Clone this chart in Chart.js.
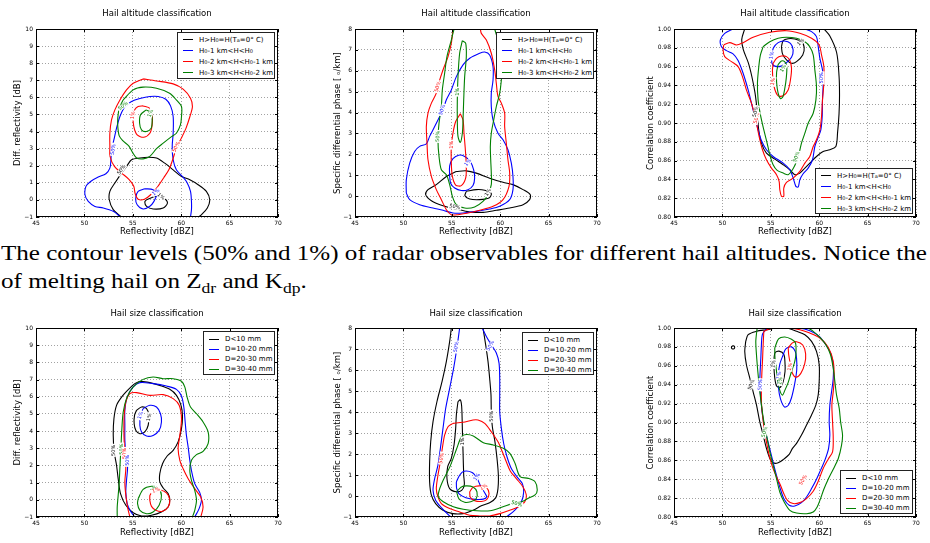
<!DOCTYPE html>
<html>
<head>
<meta charset="utf-8">
<script src="https://cdn.jsdelivr.net/npm/chart.js@4.4.0/dist/chart.umd.min.js"></script>
<style>
  body { margin: 0; width: 930px; height: 543px; overflow: hidden; position: relative; background: #fff; }
  canvas { position: absolute; }
  .caption { position: absolute; left: 1px; font-family: "Liberation Serif", serif; font-size: 22px; line-height: 22px; white-space: nowrap; transform-origin: 0 0; color: #000; }
  .caption sub { font-size: 0.7em; line-height: 0; vertical-align: -0.3em; }
  .lg { position: absolute; background: #fff; border: 1px solid #222; box-sizing: border-box; font: 7px "DejaVu Sans", sans-serif; color: #000; }
  .lg .row { white-space: nowrap; display: flex; align-items: center; padding-left: 5px; }
  .lg .ln { display: inline-block; width: 10px; height: 1px; margin-right: 6px; flex: none; }
  .lg sub { font-size: 0.72em; line-height: 0; vertical-align: -0.25em; }
</style>
</head>
<body>
<div class="caption" id="cap1" style="top:242px">The contour levels (50% and 1%) of radar observables for different hail altitudes. Notice the</div>
<div class="caption" id="cap2" style="top:270px">of melting hail on Z<sub>dr</sub> and K<sub>dp</sub>.</div>
<script>
// axis ranges
const reflRange = [45, 70];
const zdrRange = [-1, 10];
const kdpRange = [-1, 8];
const rhoRange = [0.8, 1.0];

// series colours: black, blue, red, green
const colours = ['#000000', '#0000ff', '#ff0000', '#008000'];

const altitudeLegend = [
  'H&gt;H<sub>0</sub>=H(T<sub>a</sub>=0° C)',
  'H<sub>0</sub>-1 km&lt;H&lt;H<sub>0</sub>',
  'H<sub>0</sub>-2 km&lt;H&lt;H<sub>0</sub>-1 km',
  'H<sub>0</sub>-3 km&lt;H&lt;H<sub>0</sub>-2 km'
];
const sizeLegend = ['D&lt;10 mm', 'D=10-20 mm', 'D=20-30 mm', 'D=30-40 mm'];

// ---- panel 1: altitude, Zdr ----
const p1Black50 = [[53.8,-1],[52.98,-0.57],[52.57,0.01],[52.63,0.5],[53.15,0.99],[53.84,1.57],[54.36,1.96],[54.87,2.35],[55.73,2.45],[56.59,2.5],[57.45,2.45],[58.3,2.15],[59.17,1.76],[60.03,1.37],[60.89,1.18],[61.75,0.89],[62.6,0.5],[62.95,0.01],[62.7,-0.47],[62.1,-0.86],[61.8,-1]];
const p1Black1 = [[56.42,0.01],[57.45,0.21],[58.3,0.07],[58.58,-0.18],[58.14,-0.47],[57.1,-0.53],[56.42,-0.38],[56.24,-0.12],[56.42,0.01]];
const p1Blue50 = [[53.73,-1],[52.98,-0.67],[51.95,-0.47],[51.09,-0.38],[50.4,-0.09],[50.06,0.3],[50.16,0.79],[50.64,1.08],[51.43,1.34],[52.22,1.53],[52.63,1.86],[52.74,2.35],[52.8,2.93],[53.05,3.52],[53.32,4.2],[53.67,4.88],[54.18,5.46],[54.87,5.76],[55.73,5.93],[56.76,6.05],[57.62,6.05],[58.41,5.89],[58.9,5.5],[59.17,4.88],[59.17,3.9],[59.07,3.13],[59.17,2.35],[59.5,1.76],[60.13,1.37],[60.6,1.02],[60.96,0.5],[61.06,-0.09],[61.06,-0.57],[60.96,-1]];
const p1Blue1 = [[56.24,0.65],[57.1,0.6],[57.45,0.3],[57.17,-0.1],[56.76,-0.37],[56.07,-0.53],[55.45,-0.28],[55.3,0.1],[55.55,0.5],[56.24,0.65]];
const p1Red50 = [[56.07,7.08],[57.45,6.96],[59.17,6.79],[60.2,6.48],[60.96,5.95],[61.16,5.46],[60.9,4.88],[60.5,4.2],[60.0,3.6],[59.5,3.05],[59.15,2.4],[58.75,1.8],[58.2,1.3],[57.6,0.8],[56.9,0.33],[56.2,0.04],[55.55,0.04],[55.25,0.35],[55.1,0.8],[54.6,1.2],[53.85,1.57],[53.1,1.96],[52.65,2.54],[52.63,3.13],[52.63,3.9],[52.8,4.68],[53.15,5.27],[53.67,5.85],[54.35,6.44],[55.04,6.83],[56.07,7.08]];
const p1Red1 = [[56.07,5.5],[56.76,5.36],[57.0,4.98],[57.0,4.39],[56.76,3.9],[56.14,3.67],[55.45,3.8],[55.1,4.3],[55.04,4.88],[55.2,5.27],[55.55,5.46],[56.07,5.5]];
const p1Green50 = [[54.0,5.85],[55.04,6.44],[56.07,6.6],[57.45,6.53],[58.8,6.24],[59.5,5.85],[60.03,5.46],[60.03,4.88],[59.92,4.39],[59.5,3.9],[59.0,3.7],[58.14,3.32],[57.45,3.0],[56.76,2.55],[56.07,2.4],[55.4,2.45],[55.0,2.75],[54.6,3.15],[54.0,3.45],[53.6,3.75],[53.45,4.3],[53.45,4.8],[53.6,5.35],[54.0,5.85]];
const p1Green1 = [[56.4,5.27],[56.9,5.07],[57.0,4.68],[56.9,4.2],[56.4,4.0],[55.9,4.1],[55.7,4.5],[55.8,4.98],[56.4,5.27]];
const p1Labels = [[59.5,3.1,'50%',2,-65],[55.0,4.95,'1%',2,-80],[54.0,5.5,'50%',3,-40],[56.85,5.07,'1%',3,-70],[53.0,2.95,'50%',1,-80],[57.4,0.45,'1%',1,-40],[53.84,1.76,'50%',0,-55],[57.9,0.2,'1%',0,40]];

// ---- panel 2: altitude, Kdp ----
const p2Black50 = [[55.47,1.18],[56.5,1.21],[57.53,1.1],[58.91,0.86],[60.29,0.66],[61.32,0.55],[62.36,0.31],[63.1,0.07],[63.04,-0.17],[62.36,-0.41],[60.98,-0.57],[59.6,-0.68],[58.22,-0.78],[56.85,-0.76],[55.47,-0.62],[54.09,-0.46],[52.89,-0.22],[52.3,0.07],[52.54,0.31],[53.4,0.55],[54.44,0.94],[55.47,1.18]];
const p2Black1 = [[56.5,0.23],[57.53,0.31],[58.4,0.28],[59.08,0.12],[58.84,-0.09],[57.88,-0.17],[56.85,-0.14],[56.36,0.02],[56.5,0.23]];
const p2Blue50 = [[50.3,0.15],[50.3,0.78],[50.65,1.58],[51.16,2.14],[51.68,2.38],[52.37,2.5],[52.71,2.86],[53.23,3.33],[53.75,3.81],[54.09,4.13],[54.44,4.61],[54.95,5.08],[55.47,5.72],[56.16,6.28],[56.85,6.6],[57.88,6.84],[58.4,6.9],[58.91,6.76],[59.26,6.2],[59.26,5.56],[59.08,4.93],[59.08,4.29],[59.26,3.65],[59.77,3.01],[60.29,2.7],[60.8,2.22],[61.15,1.58],[61.32,0.94],[61.32,0.31],[60.98,-0.17],[59.95,-0.49],[58.91,-0.62],[57.53,-0.73],[56.16,-0.81],[55.12,-0.81],[54.09,-0.68],[53.06,-0.57],[51.68,-0.41],[50.65,-0.17],[50.3,0.15]];
const p2Blue1 = [[54.78,0.94],[54.78,1.45],[55.12,1.79],[55.71,1.96],[56.33,1.9],[56.91,1.66],[57.26,1.26],[57.36,0.86],[57.19,0.51],[56.67,0.31],[55.98,0.27],[55.3,0.39],[54.88,0.62],[54.78,0.94]];
const p2Red50 = [[55.12,8.0],[54.95,7.32],[54.61,6.68],[54.09,6.04],[53.75,5.56],[53.4,4.93],[52.89,4.45],[52.54,3.97],[52.37,3.33],[52.44,2.54],[52.54,1.74],[52.89,0.94],[53.4,0.31],[53.92,-0.17],[54.44,-0.65],[54.95,-0.89],[55.64,-0.89],[56.67,-0.81],[57.88,-0.68],[59.26,-0.49],[60.29,-0.17],[60.91,0.47],[60.98,1.1],[60.8,1.74],[60.63,2.54],[60.46,3.33],[60.46,3.97],[60.12,4.45],[59.77,4.77],[59.6,5.4],[59.43,6.04],[59.08,6.84],[58.57,7.47],[58.05,7.79],[57.95,8.0]];
const p2Red1 = [[55.88,3.94],[56.16,3.65],[56.26,3.01],[56.4,2.22],[56.5,1.42],[56.43,0.86],[55.98,0.5],[55.4,0.53],[55.06,0.94],[54.95,1.58],[54.95,2.38],[55.12,3.01],[55.4,3.57],[55.88,3.94]];
const p2Green50 = [[55.23,8.0],[54.95,7.47],[54.5,6.68],[54.26,5.88],[54.02,5.08],[53.92,4.29],[53.68,3.49],[53.57,2.7],[53.68,1.9],[53.92,1.26],[54.44,1.02],[54.78,0.55],[55.06,-0.01],[55.47,-0.41],[56.33,-0.57],[57.36,-0.52],[58.22,-0.25],[58.74,0.07],[59.08,0.55],[59.08,1.1],[59.02,1.74],[58.98,2.38],[59.08,3.01],[59.33,3.65],[59.6,4.29],[59.95,4.93],[60.12,5.56],[60.22,6.2],[60.12,6.84],[59.77,7.47],[59.43,8.0]];
const p2Green1 = [[56.09,7.44],[56.43,7.32],[56.5,6.68],[56.33,5.72],[56.23,4.61],[56.16,3.65],[56.09,3.01],[55.88,2.57],[55.64,2.86],[55.57,3.65],[55.57,4.61],[55.64,5.72],[55.81,6.84],[56.09,7.44]];
const p2Labels = [[53.57,5.24,'50%',2,-75],[54.02,4.13,'50%',1,-70],[53.57,2.86,'50%',3,-88],[55.6,5.0,'1%',3,-90],[54.95,2.46,'1%',2,-90],[56.67,1.6,'1%',1,-50],[55.3,-0.52,'50%',0,10],[58.74,0.18,'1%',0,-60]];

// ---- panel 3: altitude, rhohv ----
const p3Black50 = [[52.3,1.0],[52.0,0.989],[52.16,0.978],[52.68,0.964],[53.03,0.95],[53.37,0.932],[53.6,0.912],[53.75,0.8927],[54.03,0.8786],[54.55,0.868],[55.41,0.8616],[56.28,0.8556],[56.97,0.8503],[57.48,0.845],[58.0,0.8467],[58.52,0.852],[59.03,0.8573],[59.72,0.8644],[60.41,0.8697],[61.1,0.8715],[61.72,0.875],[61.9,0.89],[62.05,0.91],[62.1,0.93],[62.05,0.95],[61.8,0.975],[61.1,0.9926],[60.5,1.0]];
const p3Black1 = [[56.1,0.9812],[56.28,0.9876],[56.79,0.9897],[57.48,0.9894],[58.17,0.9865],[58.45,0.9805],[58.3,0.9724],[57.66,0.9653],[57.14,0.9635],[56.62,0.9671],[56.21,0.9735],[56.1,0.9812]];
const p3Blue50 = [[51.1,1.0],[50.24,0.9954],[49.79,0.9883],[49.9,0.9812],[50.41,0.977],[51.1,0.9735],[51.62,0.9664],[52.14,0.9529],[52.66,0.9352],[53.0,0.9211],[53.34,0.9069],[53.69,0.8927],[54.03,0.8814],[54.55,0.8715],[55.24,0.8644],[56.28,0.8573],[56.97,0.8503],[57.31,0.8414],[57.59,0.8326],[57.83,0.8319],[58.0,0.8396],[58.34,0.846],[58.86,0.852],[59.31,0.8609],[59.55,0.875],[59.9,0.885],[60.17,0.8927],[60.31,0.9069],[60.34,0.9246],[60.41,0.9423],[60.34,0.9565],[60.07,0.9688],[59.9,0.9812],[59.72,0.9919],[59.21,0.9972],[58.52,1.0]];
const p3Blue1 = [[55.1,0.9688],[55.25,0.9795],[55.76,0.9855],[56.4,0.9872],[57.03,0.9848],[57.31,0.9777],[57.14,0.9699],[56.62,0.9642],[56.1,0.9605],[55.41,0.9605],[55.12,0.9635],[55.1,0.9688]];
const p3Red50 = [[50.14,0.983],[50.76,0.9855],[51.45,0.983],[52.14,0.9855],[53.17,0.9912],[54.9,0.9965],[56.62,0.9982],[58.0,0.9954],[59.21,0.9901],[60.0,0.983],[60.24,0.9724],[60.48,0.96],[60.48,0.9423],[60.34,0.9246],[60.24,0.9069],[60.07,0.8927],[59.72,0.8821],[59.38,0.875],[59.03,0.8644],[58.52,0.8573],[58.0,0.8485],[57.31,0.8414],[56.62,0.8368],[56.34,0.8308],[56.34,0.822],[56.1,0.822],[55.93,0.829],[55.86,0.8379],[55.59,0.845],[55.07,0.852],[54.55,0.8609],[54.14,0.8715],[53.79,0.8857],[53.45,0.9034],[53.0,0.9211],[52.48,0.9352],[52.07,0.9494],[51.62,0.96],[50.93,0.9653],[50.24,0.9706],[50.07,0.9777],[50.14,0.983]];
const p3Red1 = [[55.24,0.9635],[55.59,0.9688],[56.1,0.9713],[56.62,0.9706],[56.97,0.9664],[57.14,0.9582],[57.03,0.9458],[56.79,0.9352],[56.28,0.9289],[55.76,0.9289],[55.41,0.9359],[55.24,0.9458],[55.17,0.9558],[55.24,0.9635]];
const p3Green50 = [[54.21,0.9812],[54.9,0.9865],[55.76,0.9901],[56.62,0.9912],[57.66,0.9901],[58.52,0.9865],[59.03,0.9812],[59.38,0.9724],[59.55,0.9565],[59.72,0.9388],[59.66,0.9246],[59.38,0.9104],[58.86,0.8998],[58.52,0.8892],[58.17,0.8786],[57.93,0.868],[57.66,0.8591],[57.24,0.8503],[56.79,0.845],[56.28,0.8467],[55.66,0.8496],[55.24,0.8556],[54.9,0.8662],[54.62,0.8786],[54.28,0.8927],[53.93,0.9087],[53.69,0.9246],[53.62,0.9423],[53.76,0.96],[53.93,0.9724],[54.21,0.9812]];
const p3Green1 = [[55.75,0.962],[56.1,0.966],[56.45,0.965],[56.65,0.96],[56.6,0.948],[56.45,0.937],[56.25,0.928],[56.0,0.926],[55.75,0.932],[55.6,0.943],[55.6,0.954],[55.75,0.962]];
const p3Labels = [[53.55,0.905,'50%',2,-75],[53.45,0.912,'50%',0,-75],[60.3,0.948,'50%',1,-90],[57.66,0.864,'50%',3,-70],[55.1,0.972,'1%',1,-80],[55.25,0.944,'1%',2,-80],[56.3,0.958,'1%',3,-60],[58.1,0.986,'1%',0,-45]];

// ---- panel 4: size, Zdr ----
const p4Black50 = [[55.73,6.9],[56.76,6.82],[57.79,6.66],[58.82,6.43],[59.51,6.08],[59.96,5.54],[60.13,4.92],[60.03,4.14],[59.68,3.37],[59.17,2.88],[58.55,2.55],[58.07,2.1],[57.79,1.52],[57.79,1.04],[58.14,0.69],[58.65,0.36],[58.82,-0.03],[58.65,-0.42],[57.96,-0.71],[56.93,-0.9],[55.9,-0.94],[55.04,-0.75],[54.28,-0.32],[53.73,0.36],[53.49,1.23],[53.32,2.01],[53.08,2.78],[52.98,3.75],[53.05,4.72],[53.32,5.5],[53.84,5.98],[54.53,6.41],[55.21,6.76],[55.73,6.9]];
const p4Black1 = [[55.39,5.21],[55.9,5.4],[56.42,5.31],[56.66,4.92],[56.59,4.34],[56.24,3.95],[55.73,3.85],[55.32,4.04],[55.14,4.43],[55.18,4.92],[55.39,5.21]];
const p4Blue50 = [[55.21,-1],[54.77,-0.67],[54.42,-0.22],[54.28,0.46],[54.35,1.13],[54.46,1.91],[54.28,2.69],[54.18,3.46],[54.18,4.34],[54.18,5.21],[54.42,5.98],[55.04,6.57],[55.73,6.82],[57.1,6.76],[58.48,6.62],[59.51,6.43],[60.03,6.04],[60.27,5.4],[60.41,4.53],[60.54,3.75],[60.72,3.07],[60.89,2.3],[61.09,1.62],[61.4,0.94],[61.92,0.42],[62.09,-0.03],[61.85,-0.51],[61.4,-1]];
const p4Blue1 = [[56.07,5.31],[56.76,5.5],[57.45,5.4],[57.86,5.01],[57.96,4.53],[57.72,4.04],[57.1,3.75],[56.42,3.71],[55.9,3.95],[55.73,4.34],[55.8,4.92],[56.07,5.31]];
const p4Red50 = [[54.7,-1],[54.49,-0.51],[54.28,0.26],[54.18,1.04],[54.28,1.81],[54.22,2.59],[54.11,3.37],[54.08,4.14],[54.11,4.92],[54.28,5.69],[54.7,6.18],[55.39,6.24],[56.76,6.08],[58.14,6.12],[59.17,5.89],[59.79,5.5],[60.03,4.72],[59.86,3.75],[59.68,2.98],[59.86,2.3],[60.2,1.81],[60.72,1.23],[61.4,0.65],[62.02,0.16],[62.26,-0.42],[62.02,-1]];
const p4Red1 = [[56.76,0.26],[57.17,0.59],[57.79,0.59],[58.48,0.4],[58.82,0.01],[58.65,-0.42],[58.07,-0.67],[57.38,-0.61],[56.93,-0.38],[56.76,-0.03],[56.76,0.26]];
const p4Green50 = [[53.39,-1],[53.39,-0.42],[53.49,0.26],[53.6,1.04],[53.67,1.91],[53.77,2.98],[53.87,4.14],[54.01,5.11],[54.35,5.89],[55.04,6.57],[56.07,7.01],[57.1,7.15],[58.14,7.05],[59.17,7.05],[60.03,6.9],[60.37,6.57],[60.61,5.98],[60.96,5.4],[61.58,5.01],[62.26,4.53],[62.78,3.95],[62.78,3.27],[62.26,2.82],[61.58,2.63],[61.06,2.3],[60.89,1.72],[61.06,1.13],[61.4,0.55],[61.58,-0.03],[61.4,-0.61],[61.16,-1]];
const p4Green1 = [[55.56,0.07],[56.07,0.61],[56.93,0.79],[57.62,0.69],[57.96,0.26],[57.72,-0.32],[57.1,-0.71],[56.42,-0.81],[55.73,-0.61],[55.49,-0.22],[55.56,0.07]];
const p4Labels = [[52.98,2.88,'50%',0,-90],[53.85,2.95,'50%',3,-90],[54.15,2.7,'50%',2,-90],[54.45,2.3,'50%',1,-90],[55.8,4.92,'1%',1,-70],[56.7,4.8,'1%',0,-80],[57.2,0.62,'1%',3,-40],[57.4,0.55,'1%',2,-20]];

// ---- panel 5: size, Kdp ----
const p5Black50 = [[54.95,8.0],[54.78,7.36],[54.44,6.41],[53.99,5.45],[53.47,4.5],[53.06,3.54],[52.82,2.58],[52.71,1.63],[52.71,0.67],[52.89,0.04],[53.33,-0.36],[54.09,-0.68],[55.12,-0.84],[56.16,-0.84],[57.19,-0.68],[58.05,-0.47],[58.91,-0.32],[59.53,-0.09],[59.77,0.35],[59.81,0.99],[59.67,1.79],[59.46,2.58],[59.19,3.3],[59.08,4.02],[59.05,4.81],[58.91,5.61],[58.74,6.41],[58.5,7.2],[58.22,8.0]];
const p5Black1 = [[55.64,4.5],[55.88,4.58],[56.02,4.26],[56.09,3.22],[56.16,2.11],[56.23,0.99],[56.29,0.51],[56.02,0.27],[55.47,0.2],[54.78,0.35],[54.5,0.83],[54.57,1.39],[54.95,1.79],[55.23,2.43],[55.4,3.22],[55.47,3.86],[55.64,4.5]];
const p5Blue50a = [[55.81,8.0],[55.67,7.52],[55.47,6.88],[55.19,6.09],[54.78,5.13],[54.37,4.18],[54.09,3.22],[53.82,2.27],[53.57,1.47],[53.23,0.83],[53.06,0.27],[53.33,-0.2],[54.02,-0.6],[54.71,-0.92],[54.95,-1]];
const p5Blue50b = [[58.15,8.0],[58.57,7.6],[59.08,7.2],[59.6,6.81],[59.88,6.33],[59.95,5.61],[59.95,4.81],[59.95,4.02],[60.12,3.22],[60.36,2.5],[60.7,1.87],[61.15,1.31],[61.74,0.91],[62.29,0.59],[62.42,0.16],[62.18,-0.28],[61.49,-0.68],[60.63,-1]];
const p5Blue1 = [[55.47,0.67],[55.81,0.99],[56.25,1.18],[57.1,1.12],[57.6,0.85],[57.95,0.5],[58.4,0.15],[58.6,-0.04],[58.25,-0.15],[57.43,-0.16],[56.45,-0.08],[55.75,0.1],[55.5,0.36],[55.47,0.67]];
const p5Red50 = [[55.12,3.46],[56.16,3.51],[57.19,3.62],[57.71,3.62],[58.4,3.46],[59.08,3.06],[59.77,2.58],[60.22,2.11],[60.63,1.63],[61.05,1.18],[61.67,0.83],[62.36,0.43],[62.7,0.04],[62.53,-0.28],[61.84,-0.52],[60.98,-0.68],[59.95,-0.84],[58.91,-0.95],[57.88,-0.95],[56.85,-0.92],[55.81,-0.76],[54.78,-0.6],[53.92,-0.36],[53.57,-0.04],[53.4,0.35],[53.57,0.99],[53.82,1.63],[54.02,2.27],[54.26,2.9],[54.61,3.3],[55.12,3.46]];
const p5Red1 = [[56.85,0.2],[57.19,0.41],[57.88,0.48],[58.6,0.39],[58.85,0.12],[58.6,-0.17],[58.05,-0.26],[57.36,-0.22],[56.91,-0.06],[56.85,0.2]];
const p5Green50 = [[55.5,2.25],[56.0,2.83],[56.5,2.93],[57.22,2.86],[58.26,2.54],[59.29,2.43],[60.32,2.27],[61.0,2.03],[61.53,1.56],[62.05,0.92],[62.9,0.84],[63.6,0.68],[63.83,0.29],[63.6,0.05],[62.9,-0.11],[62.22,-0.27],[61.35,-0.35],[60.15,-0.54],[58.95,-0.7],[57.57,-0.7],[56.19,-0.63],[55.16,-0.51],[54.12,-0.27],[53.61,-0.03],[53.71,0.29],[54.12,0.76],[54.81,1.4],[55.5,2.25]];
const p5Green1 = [[55.5,0.2],[55.95,0.42],[56.5,0.48],[57.19,0.43],[57.6,0.2],[57.5,-0.14],[56.95,-0.27],[56.33,-0.3],[55.74,-0.14],[55.5,0.2]];
const p5Labels = [[55.47,7.1,'50%',1,-80],[59.0,7.15,'50%',1,-60],[59.08,3.8,'50%',0,-90],[56.15,2.6,'1%',0,-90],[53.95,1.8,'50%',2,-80],[57.6,0.9,'1%',1,-55],[58.3,0.42,'1%',2,-30],[61.7,-0.38,'50%',3,15]];

// ---- panel 6: size, rhohv ----
const p6Black50 = [[52.41,0.9858],[52.66,0.9929],[53.52,0.9965],[54.55,0.9982],[55.59,1.0],[56.62,1.0],[57.66,0.9965],[58.52,0.9929],[59.21,0.9858],[59.72,0.9752],[60.0,0.9611],[60.0,0.9434],[59.9,0.9292],[59.66,0.9186],[59.21,0.908],[58.69,0.8973],[58.17,0.8867],[57.66,0.8779],[57.24,0.8726],[56.9,0.8662],[56.34,0.8612],[55.76,0.8573],[55.24,0.8573],[54.9,0.862],[54.55,0.8726],[54.21,0.8867],[53.86,0.9009],[53.52,0.9186],[53.17,0.9327],[52.83,0.9469],[52.48,0.9611],[52.31,0.9752],[52.41,0.9858]];
const p6Black50b = [[51.0,0.981],[51.2,0.981],[51.27,0.9795],[51.2,0.978],[51.0,0.978],[50.93,0.9795],[51.0,0.981]];
const p6Black1 = [[55.3,0.962],[55.43,0.9737],[55.85,0.9755],[56.35,0.972],[56.47,0.962],[56.47,0.954],[56.28,0.9434],[55.95,0.937],[55.6,0.9385],[55.4,0.948],[55.3,0.962]];
const p6Blue50 = [[54.55,0.9993],[54.14,0.9936],[54.03,0.9823],[53.97,0.9681],[53.9,0.954],[53.86,0.9398],[53.97,0.9257],[54.1,0.9115],[54.31,0.8973],[54.62,0.8832],[54.97,0.869],[55.31,0.8549],[55.66,0.8414],[56.03,0.8283],[56.38,0.8188],[56.9,0.8124],[57.48,0.8117],[58.17,0.8152],[58.69,0.8212],[59.21,0.8301],[59.72,0.84],[60.14,0.8496],[60.59,0.8602],[60.97,0.8726],[61.1,0.8867],[61.03,0.9009],[61.1,0.9186],[61.28,0.9327],[61.45,0.9469],[61.45,0.9611],[61.17,0.9735],[60.69,0.9823],[60.0,0.9912],[59.03,0.9972],[57.83,1.0],[56.62,1.0],[55.59,1.0],[54.55,0.9993]];
const p6Blue1 = [[56.28,0.9717],[56.55,0.978],[57.14,0.98],[57.52,0.9755],[57.66,0.9681],[57.68,0.9558],[57.48,0.9416],[57.14,0.9262],[56.79,0.918],[56.4,0.9165],[56.0,0.925],[55.8,0.9363],[55.78,0.9504],[55.93,0.9618],[56.28,0.9717]];
const p6Red50 = [[54.28,0.9965],[54.9,0.9993],[55.93,1.0],[56.97,1.0],[58.0,0.9982],[59.03,0.9947],[60.07,0.9894],[60.93,0.9795],[61.45,0.9646],[61.55,0.9469],[61.45,0.9327],[61.31,0.9186],[61.38,0.9009],[61.45,0.8832],[61.38,0.869],[60.93,0.8612],[60.41,0.8513],[59.9,0.8379],[59.38,0.8273],[58.69,0.8195],[58.0,0.8152],[57.31,0.8142],[56.72,0.8177],[56.34,0.8248],[56.0,0.8336],[55.59,0.8425],[55.17,0.8531],[54.83,0.8655],[54.55,0.8796],[54.31,0.8938],[54.14,0.908],[54.03,0.9221],[54.03,0.9363],[54.07,0.9504],[54.14,0.9646],[54.21,0.9823],[54.28,0.9965]];
const p6Red1 = [[56.8,0.9788],[57.2,0.984],[57.66,0.9855],[58.3,0.982],[58.6,0.9725],[58.5,0.962],[58.1,0.952],[57.6,0.948],[57.2,0.953],[57.0,0.9628],[56.85,0.9717],[56.8,0.9788]];
const p6Green50 = [[53.59,1.0],[53.45,0.9858],[53.52,0.9717],[53.66,0.954],[53.83,0.9363],[54.03,0.9186],[54.28,0.9009],[54.55,0.8867],[54.9,0.869],[55.24,0.8549],[55.59,0.8407],[55.93,0.8265],[56.38,0.8159],[56.97,0.8071],[57.66,0.8042],[58.69,0.8035],[59.38,0.8053],[59.79,0.8106],[60.14,0.8195],[60.48,0.8294],[60.93,0.84],[61.45,0.8506],[61.97,0.8619],[62.31,0.8761],[62.41,0.8867],[62.21,0.9009],[62.07,0.915],[61.79,0.9292],[61.62,0.9434],[61.45,0.9575],[61.17,0.9717],[60.69,0.9823],[60.07,0.9901],[59.38,0.9965],[58.86,1.0]];
const p6Green1 = [[55.41,0.9788],[55.8,0.9885],[56.45,0.9905],[57.14,0.988],[57.55,0.9841],[57.6,0.9735],[57.48,0.9646],[57.14,0.954],[56.8,0.9425],[56.45,0.934],[56.2,0.929],[55.9,0.935],[55.7,0.946],[55.55,0.9575],[55.43,0.9681],[55.41,0.9788]];
const p6Labels = [[53.0,0.94,'50%',0,-70],[53.93,0.94,'50%',1,-85],[55.3,0.962,'1%',0,-80],[57.0,0.959,'1%',2,-80],[55.86,0.95,'1%',1,-80],[56.0,0.944,'1%',3,-80],[54.38,0.89,'50%',3,-75],[58.35,0.839,'50%',2,-60]];

// page layout of the six panels (pixels)
const cols = [
  {x: 0, plotL: 36, plotR: 278, yTitleX: 18},
  {x: 310, plotL: 355, plotR: 597, yTitleX: 338},
  {x: 620, plotL: 674, plotR: 916, yTitleX: 651}
];
const rows = [
  {y: 0, h: 245, plotT: 29, plotB: 217, titleY: 14, xTitleY: 231.7},
  {y: 300, h: 243, plotT: 328, plotB: 517, titleY: 313.3, xTitleY: 532.3}
];

const panels = [
  {col: 0, row: 0, title: 'Hail altitude classification', yTitle: 'Diff. reflectivity [dB]', yr: zdrRange, step: 1,
   contours: [[0, p1Black50], [0, p1Black1], [1, p1Blue50], [1, p1Blue1], [2, p1Red50], [2, p1Red1], [3, p1Green50], [3, p1Green1]],
   labels: p1Labels, legend: altitudeLegend, lg: [177, 32, 98, 47, 11, 1]},
  {col: 1, row: 0, title: 'Hail altitude classification', yTitle: 'Specific differential phase [ ₒ/km]', yr: kdpRange, step: 1,
   contours: [[0, p2Black50], [0, p2Black1], [1, p2Blue50], [1, p2Blue1], [2, p2Red50], [2, p2Red1], [3, p2Green50], [3, p2Green1]],
   labels: p2Labels, legend: altitudeLegend, lg: [496, 32, 98, 47, 11, 1]},
  {col: 2, row: 0, title: 'Hail altitude classification', yTitle: 'Correlation coefficient', yr: rhoRange, step: 0.02,
   contours: [[0, p3Black50], [0, p3Black1], [1, p3Blue50], [1, p3Blue1], [2, p3Red50], [2, p3Red1], [3, p3Green50], [3, p3Green1]],
   labels: p3Labels, legend: altitudeLegend, lg: [815, 168, 98, 46, 11, 1]},
  {col: 0, row: 1, title: 'Hail size classification', yTitle: 'Diff. reflectivity [dB]', yr: zdrRange, step: 1,
   contours: [[0, p4Black50], [0, p4Black1], [1, p4Blue50], [1, p4Blue1], [2, p4Red50], [2, p4Red1], [3, p4Green50], [3, p4Green1]],
   labels: p4Labels, legend: sizeLegend, lg: [203, 331, 72, 44, 10, 2]},
  {col: 1, row: 1, title: 'Hail size classification', yTitle: 'Specific differential phase [ ₒ/km]', yr: kdpRange, step: 1,
   contours: [[0, p5Black50], [0, p5Black1], [1, p5Blue50a], [1, p5Blue50b], [1, p5Blue1], [2, p5Red50], [2, p5Red1], [3, p5Green50], [3, p5Green1]],
   labels: p5Labels, legend: sizeLegend, lg: [522, 332, 72, 43, 10, 2]},
  {col: 2, row: 1, title: 'Hail size classification', yTitle: 'Correlation coefficient', yr: rhoRange, step: 0.02,
   contours: [[0, p6Black50], [0, p6Black50b], [0, p6Black1], [1, p6Blue50], [1, p6Blue1], [2, p6Red50], [2, p6Red1], [3, p6Green50], [3, p6Green1]],
   labels: p6Labels, legend: sizeLegend, lg: [840, 470, 73, 44, 10, 2]}
];

const FONT = '"DejaVu Sans", sans-serif';
const LH = 10.2; // line height of 8.5px titles

// frame, inward ticks and inline contour labels
const framePlugin = {
  id: 'frame',
  afterDatasetsDraw(chart, args, opts) {
    const {ctx, chartArea: a, scales: {x, y}} = chart;
    ctx.save();
    ctx.font = '5px ' + FONT;
    ctx.textAlign = 'center';
    ctx.textBaseline = 'middle';
    (opts.labels || []).forEach(([vx, vy, txt, c, ang]) => {
      ctx.save();
      ctx.translate(x.getPixelForValue(vx), y.getPixelForValue(vy));
      ctx.rotate(ang * Math.PI / 180);
      const w = ctx.measureText(txt).width;
      ctx.fillStyle = '#fff';
      ctx.fillRect(-w / 2 - 1, -2.5, w + 2, 5);
      ctx.fillStyle = colours[c];
      ctx.fillText(txt, 0, 0);
      ctx.restore();
    });
    ctx.strokeStyle = '#000';
    ctx.lineWidth = 1;
    ctx.beginPath();
    x.ticks.forEach(t => {
      const px = Math.round(x.getPixelForValue(t.value)) + 0.5;
      ctx.moveTo(px, a.bottom); ctx.lineTo(px, a.bottom - 3);
      ctx.moveTo(px, a.top); ctx.lineTo(px, a.top + 3);
    });
    y.ticks.forEach(t => {
      const py = Math.round(y.getPixelForValue(t.value)) + 0.5;
      ctx.moveTo(a.left, py); ctx.lineTo(a.left + 3, py);
      ctx.moveTo(a.right, py); ctx.lineTo(a.right - 3, py);
    });
    ctx.stroke();
    ctx.strokeRect(Math.round(a.left) + 0.5, Math.round(a.top) + 0.5, Math.round(a.right - a.left) - 1, Math.round(a.bottom - a.top) - 1);
    ctx.restore();
  }
};

function drawPanel(p) {
  const c = cols[p.col], r = rows[p.row];
  const cv = document.createElement('canvas');
  cv.width = 310;
  cv.height = r.h;
  cv.style.left = c.x + 'px';
  cv.style.top = r.y + 'px';
  document.body.appendChild(cv);

  const datasets = p.contours.slice().reverse().map(([ci, pts]) => ({
    data: pts.map(([x, y]) => ({x, y})),
    showLine: true,
    borderColor: colours[ci],
    borderWidth: 1.1,
    pointRadius: 0,
    tension: 0.3,
    fill: false
  }));

  const titleFont = {family: FONT, size: 8.5, weight: 'normal', lineHeight: 1.2};
  const tickFont = {family: FONT, size: 6};
  const isRho = p.step < 1;

  new Chart(cv, {
    type: 'scatter',
    data: {datasets},
    options: {
      responsive: false,
      animation: false,
      devicePixelRatio: 1,
      events: [],
      layout: {padding: {left: 0, top: 0, bottom: 0, right: c.x + 310 - c.plotR}},
      plugins: {
        legend: {display: false},
        tooltip: {enabled: false},
        title: {
          display: true, text: p.title, color: '#000', font: titleFont, fullSize: false,
          padding: {top: r.titleY - r.y - LH / 2, bottom: r.plotT - r.titleY - LH / 2}
        },
        frame: {labels: p.labels}
      },
      scales: {
        x: {
          type: 'linear', min: reflRange[0], max: reflRange[1],
          afterFit: s => { s.height = r.y + r.h - r.plotB; },
          ticks: {stepSize: 5, color: '#000', font: tickFont, padding: 3, maxRotation: 0, autoSkip: false},
          grid: {color: '#8a8a8a', lineWidth: 0.8, drawTicks: false},
          border: {display: false, dash: [1, 2]},
          title: {display: true, text: 'Reflectivity [dBZ]', color: '#000', font: titleFont,
                  padding: {top: 0, bottom: r.y + r.h - r.xTitleY - LH / 2}}
        },
        y: {
          type: 'linear', min: p.yr[0], max: p.yr[1],
          afterFit: s => { s.width = c.plotL - c.x; },
          ticks: {
            stepSize: p.step, color: '#000', font: tickFont, padding: 3, autoSkip: false,
            callback: v => isRho ? v.toFixed(2) : String(v).replace('-', '−')
          },
          grid: {color: '#8a8a8a', lineWidth: 0.8, drawTicks: false},
          border: {display: false, dash: [1, 2]},
          title: {display: true, text: p.yTitle, color: '#000', font: titleFont,
                  padding: {top: c.yTitleX - c.x - LH / 2, bottom: 0}}
        }
      }
    },
    plugins: [framePlugin]
  });

  // legend box
  const [lx, ly, lw, lh, rowH, padT] = p.lg;
  const box = document.createElement('div');
  box.className = 'lg';
  box.style.cssText = `left:${lx}px;top:${ly}px;width:${lw}px;height:${lh}px;padding-top:${padT}px`;
  box.innerHTML = p.legend.map((txt, i) =>
    `<div class="row" style="height:${rowH}px"><span class="ln" style="background:${colours[i]}"></span>${txt}</div>`).join('');
  document.body.appendChild(box);
}

panels.forEach(drawPanel);

// stretch the caption line to the page width, as in the scanned figure
const cap1 = document.getElementById('cap1');
const cap2 = document.getElementById('cap2');
const k = 926 / cap1.getBoundingClientRect().width;
cap1.style.transform = `scaleX(${k})`;
cap2.style.transform = `scaleX(${k})`;
</script>
</body>
</html>
